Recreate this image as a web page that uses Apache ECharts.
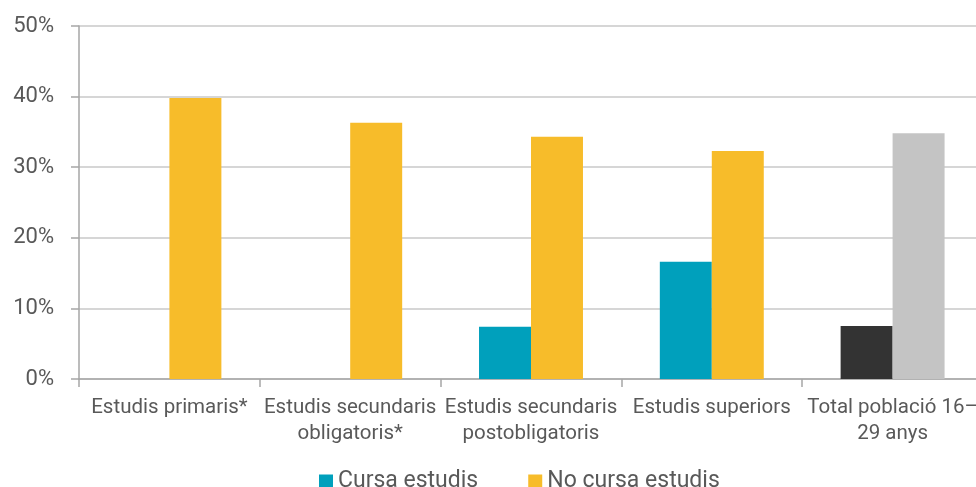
<!DOCTYPE html>
<html><head><meta charset="utf-8">
<script src="https://cdn.jsdelivr.net/npm/echarts@6/dist/echarts.min.js"></script>
<style>html,body{margin:0;padding:0;background:#fff}#c{width:976px;height:487px}</style>
</head><body><div id="c"></div>
<script>
const categories = ["Estudis primaris*", "Estudis secundaris\nobligatoris*", "Estudis secundaris\npostobligatoris", "Estudis superiors", "Total població 16–\n29 anys"];
const cursaValues = [null, null, 7.4, 16.6, 7.5];
const noCursaValues = [39.8, 36.3, 34.3, 32.3, 34.8];
const yTicks = [0, 10, 20, 30, 40, 50];
const seriesNames = ["Cursa estudis", "No cursa estudis"];

const COL_CYAN = "#00A0BC", COL_YELLOW = "#F7BC2A", COL_DARK = "#333333", COL_GRAY = "#C4C4C4";
const FONT = "Roboto";
const chart = echarts.init(document.getElementById('c'));
const lastIdx = categories.length - 1;
chart.setOption({
  animation: false,
  textStyle: { fontFamily: FONT },
  grid: { left: 79, width: 904, top: 26, height: 353, outerBoundsMode: 'none', containLabel: false },
  legend: {
    top: 465, left: 314, itemWidth: 14, itemHeight: 14, itemGap: 50,
    icon: 'rect', textStyle: { fontSize: 23, color: '#595959', fontFamily: FONT },
    data: seriesNames
  },
  xAxis: {
    type: 'category', data: categories,
    axisLine: { lineStyle: { color: '#a6a6a6', width: 1.5 } },
    axisTick: { show: true, length: 8, lineStyle: { color: '#a6a6a6', width: 1.5 } },
    axisLabel: { fontSize: 20.5, color: '#595959', lineHeight: 26, margin: 16, interval: 0 }
  },
  yAxis: {
    type: 'value', min: 0, max: 50, interval: 10,
    axisLine: { show: true, lineStyle: { color: '#a6a6a6', width: 1.5 } },
    axisTick: { show: true, length: 8, lineStyle: { color: '#a6a6a6', width: 1.5 } },
    splitLine: { lineStyle: { color: '#c8c8c8', width: 1.5 } },
    axisLabel: { fontSize: 22, color: '#595959', margin: 25, formatter: v => yTicks.includes(v) ? v + '%' : '' }
  },
  series: [
    { name: seriesNames[0], type: 'bar', barGap: '0%', barCategoryGap: '42.5%',
      itemStyle: { color: COL_CYAN },
      data: cursaValues.map((v, i) => i === lastIdx ? { value: v, itemStyle: { color: COL_DARK } } : v) },
    { name: seriesNames[1], type: 'bar', barGap: '0%', barCategoryGap: '42.5%',
      itemStyle: { color: COL_YELLOW },
      data: noCursaValues.map((v, i) => i === lastIdx ? { value: v, itemStyle: { color: COL_GRAY } } : v) }
  ]
});
</script></body></html>
